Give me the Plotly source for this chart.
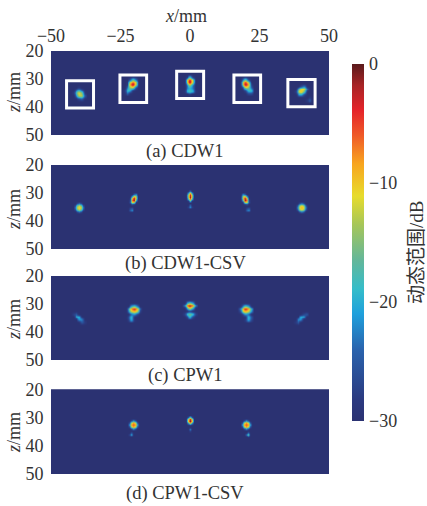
import plotly.graph_objects as go

W, H = 427, 506
PLOT_X = (51, 329)
PANEL_Y = [(51, 135), (165, 249), (276, 360), (389.5, 474)]
CAPTION_Y = [151, 263, 375, 493]
ZLABEL_Y = [93, 210, 320, 433]
BAR_X = (352, 364)
BAR_Y = (64, 421)
SERIF = "Liberation Serif, Noto Sans CJK SC, serif"
INK = "#333333"
CLEAR = "rgba(0,0,0,0)"

X_TICKS = [-50, -25, 0, 25, 50]
Z_TICKS = [20, 30, 40, 50]
DB_TICKS = [-30, -20, -10, 0]
CAPTIONS = ["(a) CDW1", "(b) CDW1-CSV", "(c) CPW1", "(d) CPW1-CSV"]
BACKGROUND_DB = [[-30, -30], [-30, -30]]

COLORSCALE = [
    [0.00, "#2b3272"], [0.06, "#2b3a80"], [0.20, "#2a63ad"], [0.30, "#1fa0dc"],
    [0.37, "#35bdc9"], [0.45, "#63b79a"], [0.55, "#a6c659"], [0.63, "#e7dc2c"],
    [0.72, "#f8a51f"], [0.80, "#ef5a28"], [0.87, "#e5242a"], [0.94, "#a82426"],
    [1.00, "#5a1a1c"],
]

# Regions of interest in panel (a): x0, x1, z0, z1 (mm)
BOX_X0 = [-44.4, -25.2, -4.8, 15.8, 35.2]
BOX_X1 = [-34.7, -15.6, 4.9, 25.4, 45.0]
BOX_Z0 = [30.6, 28.6, 27.2, 28.6, 30.2]
BOX_Z1 = [40.4, 38.4, 37.0, 38.4, 39.9]

# Each spot: x origin, z origin, grid step (mm) and dB samples
A_SPOTS = [
    (-43, 32, 1, [[-30,-30,-30,-30,-30,-30,-30],
                  [-30,-30,-30,-28,-30,-30,-30],
                  [-30,-30,-23,-18,-24,-30,-30],
                  [-30,-28,-17,-11,-15,-29,-30],
                  [-30,-30,-22,-13,-13,-25,-30],
                  [-30,-30,-30,-27,-25,-30,-30],
                  [-30,-30,-30,-30,-30,-30,-30]]),
    (-24.6, 29, 1, [[-30,-30,-30,-30,-30,-30,-30],
                    [-30,-30,-30,-26,-16,-24,-30],
                    [-30,-30,-29,-13,-7,-13,-30],
                    [-30,-30,-28,-8,-1,-12,-30],
                    [-30,-30,-23,-14,-12,-26,-30],
                    [-30,-28,-18,-20,-29,-30,-30],
                    [-30,-29,-24,-29,-30,-30,-30],
                    [-30,-30,-30,-30,-30,-30,-30]]),
    (-3.1, 28.2, 1, [[-30,-30,-30,-30,-30,-30,-30],
                     [-30,-30,-28,-17,-28,-30,-30],
                     [-30,-30,-13,-4,-13,-30,-30],
                     [-30,-30,-12,-1,-12,-30,-30],
                     [-30,-30,-23,-14,-23,-30,-30],
                     [-30,-30,-23,-20,-23,-30,-30],
                     [-30,-29,-19,-17,-19,-29,-30],
                     [-30,-30,-30,-27,-30,-30,-30],
                     [-30,-30,-30,-30,-30,-30,-30]]),
    (16.9, 29, 1, [[-30,-30,-30,-30,-30,-30,-30],
                   [-30,-30,-24,-16,-27,-30,-30],
                   [-30,-30,-13,-5,-14,-30,-30],
                   [-30,-30,-12,-1,-8,-28,-30],
                   [-30,-30,-26,-12,-14,-25,-30],
                   [-30,-30,-30,-27,-18,-18,-29],
                   [-30,-30,-30,-30,-26,-26,-30],
                   [-30,-30,-30,-30,-30,-30,-30]]),
    (37, 31.5, 1, [[-30,-30,-30,-30,-30,-30,-30,-30],
                   [-30,-30,-30,-26,-22,-30,-30,-30],
                   [-30,-30,-17,-11,-11,-25,-30,-30],
                   [-30,-27,-12,-9,-16,-30,-30,-30],
                   [-30,-30,-21,-20,-27,-30,-30,-30],
                   [-30,-30,-30,-30,-30,-30,-28,-30],
                   [-30,-30,-30,-30,-30,-28,-24,-30],
                   [-30,-30,-30,-30,-30,-30,-30,-30]]),
]

B_SPOTS = [
    (-42.1, 33, 0.7, [[-30,-30,-30,-30,-30,-30,-30],
                      [-30,-30,-26,-23,-26,-30,-30],
                      [-30,-26,-16,-13,-16,-26,-30],
                      [-30,-23,-13,-10,-13,-23,-30],
                      [-30,-26,-16,-13,-16,-26,-30],
                      [-30,-30,-26,-23,-26,-30,-30],
                      [-30,-30,-30,-30,-30,-30,-30]]),
    (-22.4, 29.7, 0.7, [[-30,-30,-30,-30,-30,-30],
                        [-30,-30,-30,-24,-22,-30],
                        [-30,-30,-21,-10,-14,-30],
                        [-30,-29,-10,-2,-13,-30],
                        [-30,-27,-7,-1,-19,-30],
                        [-30,-26,-12,-13,-29,-30],
                        [-30,-30,-27,-29,-30,-30],
                        [-30,-30,-30,-30,-30,-30],
                        [-30,-27,-25,-30,-30,-30],
                        [-30,-25,-22,-30,-30,-30],
                        [-30,-30,-30,-30,-30,-30]]),
    (-1.5, 28.5, 0.7, [[-30,-30,-30,-30,-30],
                       [-30,-30,-24,-30,-30],
                       [-30,-22,-10,-22,-30],
                       [-30,-15,-3,-15,-30],
                       [-30,-15,-1,-15,-30],
                       [-30,-20,-7,-20,-30],
                       [-30,-29,-19,-29,-30],
                       [-30,-30,-30,-30,-30],
                       [-30,-30,-25,-30,-30],
                       [-30,-28,-22,-28,-30],
                       [-30,-30,-30,-30,-30]]),
    (18.2, 29.7, 0.7, [[-30,-30,-30,-30,-30,-30],
                       [-30,-22,-24,-30,-30,-30],
                       [-30,-14,-10,-21,-30,-30],
                       [-30,-13,-2,-10,-29,-30],
                       [-30,-19,-1,-7,-27,-30],
                       [-30,-29,-13,-12,-26,-30],
                       [-30,-30,-29,-27,-30,-30],
                       [-30,-30,-30,-30,-30,-30],
                       [-30,-30,-30,-27,-25,-30],
                       [-30,-30,-30,-24,-22,-30],
                       [-30,-30,-30,-30,-30,-30]]),
    (37.9, 33, 0.7, [[-30,-30,-30,-30,-30,-30,-30],
                     [-30,-30,-25,-22,-25,-30,-30],
                     [-30,-25,-14,-11,-14,-25,-30],
                     [-30,-22,-11,-9,-11,-22,-30],
                     [-30,-25,-14,-11,-14,-25,-30],
                     [-30,-30,-25,-22,-25,-30,-30],
                     [-30,-30,-30,-30,-30,-30,-30]]),
]

C_SPOTS = [
    (-43, 32.5, 1, [[-30,-30,-30,-30,-30,-30,-30],
                    [-30,-27,-25,-30,-30,-30,-30],
                    [-30,-30,-20,-19,-30,-30,-30],
                    [-30,-30,-30,-21,-22,-30,-30],
                    [-30,-30,-30,-30,-25,-28,-30],
                    [-30,-30,-30,-30,-30,-30,-30]]),
    (-24.1, 29.6, 1, [[-30,-30,-30,-30,-30,-30,-30,-30],
                      [-30,-30,-30,-20,-16,-23,-30,-30],
                      [-30,-30,-18,-8,-3,-10,-23,-30],
                      [-30,-30,-20,-11,-8,-12,-26,-30],
                      [-30,-30,-30,-24,-21,-27,-30,-30],
                      [-30,-30,-25,-18,-30,-30,-30,-30],
                      [-30,-30,-27,-20,-29,-30,-30,-30],
                      [-30,-30,-30,-30,-30,-30,-30,-30]]),
    (-3.1, 28.5, 1, [[-30,-30,-30,-30,-30,-30,-30],
                     [-30,-30,-20,-15,-20,-30,-30],
                     [-30,-22,-7,-1,-7,-22,-30],
                     [-30,-30,-19,-10,-19,-30,-30],
                     [-30,-30,-30,-28,-30,-30,-30],
                     [-30,-27,-18,-15,-18,-27,-30],
                     [-30,-30,-27,-19,-27,-30,-30],
                     [-30,-30,-30,-30,-30,-30,-30]]),
    (16.9, 29.6, 1, [[-30,-30,-30,-30,-30,-30,-30,-30],
                     [-30,-30,-23,-16,-20,-30,-30,-30],
                     [-30,-23,-10,-3,-8,-19,-30,-30],
                     [-30,-26,-12,-8,-11,-21,-30,-30],
                     [-30,-30,-27,-21,-24,-30,-30,-30],
                     [-30,-30,-30,-30,-18,-25,-30,-30],
                     [-30,-30,-30,-28,-20,-27,-30,-30],
                     [-30,-30,-30,-30,-30,-30,-30,-30]]),
    (36.8, 32.5, 1, [[-30,-30,-30,-30,-30,-30,-30],
                     [-30,-30,-30,-30,-27,-25,-30],
                     [-30,-30,-30,-20,-20,-30,-30],
                     [-30,-30,-22,-21,-30,-30,-30],
                     [-30,-28,-25,-30,-30,-30,-30],
                     [-30,-30,-30,-30,-30,-30,-30]]),
]

D_SPOTS = [
    (-22.6, 30.3, 0.7, [[-30,-30,-30,-30,-30,-30,-30],
                        [-30,-30,-26,-21,-26,-30,-30],
                        [-30,-26,-13,-8,-13,-26,-30],
                        [-30,-21,-8,-6,-8,-21,-30],
                        [-30,-26,-13,-8,-13,-26,-30],
                        [-30,-30,-26,-21,-26,-30,-30],
                        [-30,-30,-30,-30,-30,-30,-30],
                        [-30,-30,-26,-30,-30,-30,-30],
                        [-30,-27,-20,-30,-30,-30,-30],
                        [-30,-30,-30,-30,-30,-30,-30]]),
    (-1.5, 29.1, 0.7, [[-30,-30,-30,-30,-30],
                       [-30,-26,-16,-26,-30],
                       [-30,-12,-2,-12,-30],
                       [-30,-11,-1,-11,-30],
                       [-30,-23,-13,-23,-30],
                       [-30,-30,-30,-30,-30],
                       [-30,-30,-29,-30,-30],
                       [-30,-30,-23,-30,-30],
                       [-30,-30,-28,-30,-30],
                       [-30,-30,-30,-30,-30]]),
    (18.0, 30.3, 0.7, [[-30,-30,-30,-30,-30,-30,-30],
                       [-30,-30,-26,-21,-26,-30,-30],
                       [-30,-26,-13,-8,-13,-26,-30],
                       [-30,-21,-8,-6,-8,-21,-30],
                       [-30,-26,-13,-8,-13,-26,-30],
                       [-30,-30,-26,-21,-26,-30,-30],
                       [-30,-30,-30,-30,-30,-30,-30],
                       [-30,-30,-30,-30,-25,-30,-30],
                       [-30,-30,-30,-24,-16,-30,-30],
                       [-30,-30,-30,-30,-28,-30,-30]]),
]

PANELS = [A_SPOTS, B_SPOTS, C_SPOTS, D_SPOTS]


def px(x):
    return x / W


def py(y):
    return 1 - y / H


def label(text, x, y, angle=0, size=18):
    return dict(text=text, xref="paper", yref="paper", x=px(x), y=py(y),
                xanchor="center", yanchor="middle", textangle=angle, showarrow=False,
                font=dict(family=SERIF, size=size, color=INK))


fig = go.Figure()
layout = dict(
    width=W, height=H, autosize=False,
    margin=dict(l=0, r=0, t=0, b=0, pad=0),
    paper_bgcolor="white", plot_bgcolor="#2b3272", showlegend=False,
    font=dict(family=SERIF, size=18, color=INK),
)
annotations = []
shapes = []

for i, (spots, (top, bottom)) in enumerate(zip(PANELS, PANEL_Y), start=1):
    sfx = "" if i == 1 else str(i)
    ax, ay = "x" + sfx, "y" + sfx
    layout["xaxis" + sfx] = dict(
        domain=[px(PLOT_X[0]), px(PLOT_X[1])], range=[-50, 50], anchor=ay,
        side="top", tickvals=X_TICKS, ticks="outside", ticklen=1, tickcolor=CLEAR,
        showgrid=False, zeroline=False, showticklabels=(i == 1), showline=False,
        automargin=False, tickfont=dict(family=SERIF, size=18, color=INK),
    )
    layout["yaxis" + sfx] = dict(
        domain=[py(bottom), py(top)], range=[50, 20], anchor=ax,
        tickvals=Z_TICKS, ticks="outside", ticklen=3, tickcolor=CLEAR,
        showgrid=False, zeroline=False, showline=False, automargin=False,
        tickfont=dict(family=SERIF, size=18, color=INK),
    )
    fig.add_trace(go.Heatmap(
        x=[-50, 50], y=[20, 50], z=BACKGROUND_DB, xaxis=ax, yaxis=ay,
        zmin=-30, zmax=0, colorscale=COLORSCALE, hoverinfo="skip", showscale=(i == 1),
        colorbar=dict(
            thicknessmode="pixels", thickness=BAR_X[1] - BAR_X[0],
            lenmode="fraction", len=(BAR_Y[1] - BAR_Y[0]) / H,
            x=px(BAR_X[0]), xanchor="left", xpad=0, y=py(BAR_Y[1]), yanchor="bottom", ypad=0,
            outlinewidth=0, ticks="outside", ticklen=2, tickcolor=CLEAR, tickvals=DB_TICKS,
            tickfont=dict(family=SERIF, size=18, color=INK),
        ),
    ))
    for x0, z0, step, rows in spots:
        fig.add_trace(go.Heatmap(
            z=rows, x0=x0, dx=step, y0=z0, dy=step, xaxis=ax, yaxis=ay,
            zmin=-30, zmax=0, colorscale=COLORSCALE, zsmooth="best",
            showscale=False, hoverinfo="skip",
        ))
    annotations.append(label(CAPTIONS[i - 1], 185, CAPTION_Y[i - 1], size=18.5))
    annotations.append(label("<i>z</i>/mm", 14, ZLABEL_Y[i - 1], -90))

for bx0, bx1, bz0, bz1 in zip(BOX_X0, BOX_X1, BOX_Z0, BOX_Z1):
    shapes.append(dict(type="rect", xref="x", yref="y", x0=bx0, x1=bx1, y0=bz0, y1=bz1,
                       line=dict(color="white", width=3), layer="above"))

annotations.append(label("<i>x</i>/mm", 186, 16))
annotations.append(label("动态范围/dB", 416, 253, -90, size=19))

fig.update_layout(**layout, annotations=annotations, shapes=shapes)
fig.write_html("out.html", config={"displayModeBar": False},
               post_script="document.body.style.margin='0';")
